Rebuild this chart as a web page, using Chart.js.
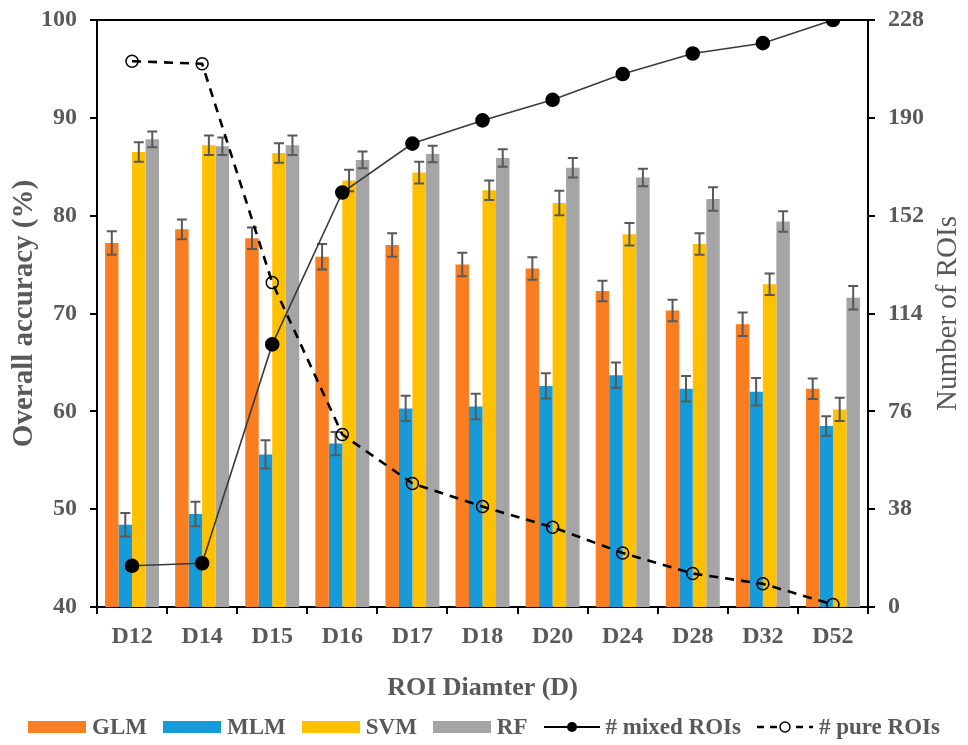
<!DOCTYPE html>
<html>
<head>
<meta charset="utf-8">
<script src="https://cdn.jsdelivr.net/npm/chart.js@4.4.0/dist/chart.umd.min.js"></script>
<style>
  body { margin: 0; background: #fff; }
  #wrap { position: relative; width: 968px; height: 745px; }
  #legend {
    position: absolute; left: 0; top: 714px; width: 968px;
    display: flex; justify-content: center; align-items: center;
    font-family: "Liberation Serif", "Times New Roman", serif;
    font-size: 23px; font-weight: bold; color: #595959;
  }
  #legend .item { display: flex; align-items: center; margin: 0 8px; }
  #legend .sw { display: inline-block; width: 58px; height: 12px; margin-right: 6px; }
  #legend svg { margin-right: 6px; }
</style>
</head>
<body>
<div id="wrap">
  <canvas id="chart" width="968" height="745"></canvas>
  <div id="legend"></div>
</div>
<script>
    const FONT = '"Liberation Serif", "Times New Roman", serif';

    const labels = ['D12', 'D14', 'D15', 'D16', 'D17', 'D18', 'D20', 'D24', 'D28', 'D32', 'D52'];

    // overall accuracy (%) per model
    const glm = [77.2, 78.6, 77.7, 75.8, 77.0, 75.0, 74.6, 72.3, 70.3, 68.9, 62.3];
    const mlm = [48.4, 49.5, 55.6, 56.7, 60.3, 60.5, 62.6, 63.7, 62.3, 62.0, 58.5];
    const svm = [86.5, 87.2, 86.4, 83.6, 84.4, 82.6, 81.3, 78.1, 77.1, 73.0, 60.2];
    const rf  = [87.8, 87.1, 87.2, 85.7, 86.3, 85.9, 84.9, 83.9, 81.7, 79.4, 71.6];

    // error bar half lengths
    const glmErr = [1.2, 1.0, 1.1, 1.3, 1.2, 1.2, 1.15, 1.05, 1.1, 1.2, 1.05];
    const mlmErr = [1.2, 1.25, 1.45, 1.2, 1.3, 1.3, 1.3, 1.3, 1.3, 1.4, 1.0];
    const svmErr = [1.0, 1.0, 1.0, 1.1, 1.1, 1.0, 1.25, 1.15, 1.1, 1.1, 1.2];
    const rfErr  = [0.8, 0.9, 1.0, 0.85, 0.85, 0.9, 1.0, 0.9, 1.2, 1.05, 1.2];

    // number of ROIs
    const mixedRois = [16, 17, 102, 161, 180, 189, 197, 207, 215, 219, 228];
    const pureRois  = [212, 211, 126, 67, 48, 39, 31, 21, 13, 9, 1];

    const accTicks = [40, 50, 60, 70, 80, 90, 100];
    const roiTicks = [0, 38, 76, 114, 152, 190, 228];

    const colors = { glm: '#F97E22', mlm: '#169BD8', svm: '#FFC000', rf: '#A5A5A5' };

    function barSet(label, data, err, color) {
        return {
            type: 'bar', label: label, data: data, errors: err,
            backgroundColor: color, yAxisID: 'y', order: 2,
            categoryPercentage: 0.77, barPercentage: 1.0
        };
    }

    // error bars + top frame line + right axis title
    const extrasPlugin = {
        id: 'extras',
        beforeDatasetsDraw(chart) {
            const ctx = chart.ctx;
            const a = chart.chartArea;
            ctx.save();
            ctx.strokeStyle = '#000';
            ctx.lineWidth = 2;
            ctx.beginPath();
            ctx.moveTo(a.left, a.top);
            ctx.lineTo(a.right, a.top);
            ctx.stroke();
            ctx.restore();
        },
        afterDatasetDraw(chart, args) {
            const ds = chart.data.datasets[args.index];
            if (!ds.errors) return;
            const ctx = chart.ctx;
            const yScale = chart.scales.y;
            ctx.save();
            ctx.strokeStyle = '#595959';
            ctx.lineWidth = 2;
            args.meta.data.forEach((el, i) => {
                const v = ds.data[i];
                const e = ds.errors[i];
                const yTop = yScale.getPixelForValue(v + e);
                const yBot = yScale.getPixelForValue(v - e);
                ctx.beginPath();
                ctx.moveTo(el.x, yTop); ctx.lineTo(el.x, yBot);
                ctx.moveTo(el.x - 5, yTop); ctx.lineTo(el.x + 5, yTop);
                ctx.moveTo(el.x - 5, yBot); ctx.lineTo(el.x + 5, yBot);
                ctx.stroke();
            });
            ctx.restore();
        },
        afterDraw(chart) {
            const ctx = chart.ctx;
            const a = chart.chartArea;
            ctx.save();
            ctx.translate(948, (a.top + a.bottom) / 2);
            ctx.rotate(-Math.PI / 2);
            ctx.textAlign = 'center';
            ctx.textBaseline = 'middle';
            ctx.fillStyle = '#595959';
            ctx.font = '29px ' + FONT;
            ctx.fillText('Number of ROIs', 0, 0);
            ctx.restore();
        }
    };

    const tickFont = { family: FONT, size: 24, weight: 'bold' };

    const chart = new Chart(document.getElementById('chart'), {
        type: 'bar',
        data: {
            labels: labels,
            datasets: [
                {
                    type: 'line', label: '# mixed ROIs', data: mixedRois, yAxisID: 'y1', order: 0,
                    borderColor: '#3a3a3a', borderWidth: 1.6, pointRadius: 6.5,
                    pointBackgroundColor: '#000', pointBorderColor: '#000', tension: 0
                },
                {
                    type: 'line', label: '# pure ROIs', data: pureRois, yAxisID: 'y1', order: 1,
                    borderColor: '#000', borderWidth: 2.6, borderDash: [9, 7], pointRadius: 6,
                    pointBackgroundColor: 'rgba(0,0,0,0)', pointBorderColor: '#000', pointBorderWidth: 1.5, tension: 0
                },
                barSet('GLM', glm, glmErr, colors.glm),
                barSet('MLM', mlm, mlmErr, colors.mlm),
                barSet('SVM', svm, svmErr, colors.svm),
                barSet('RF', rf, rfErr, colors.rf)
            ]
        },
        options: {
            responsive: false,
            animation: false,
            devicePixelRatio: 1,
            layout: { padding: { top: 20, left: 0, right: 0, bottom: 0 } },
            plugins: { legend: { display: false }, tooltip: { enabled: false } },
            scales: {
                x: {
                    offset: true,
                    grid: { offset: true, drawOnChartArea: false, drawTicks: true, tickLength: 7, color: '#000', lineWidth: 2 },
                    border: { color: '#000', width: 2 },
                    ticks: { color: '#595959', font: tickFont, padding: 8, maxRotation: 0 },
                    title: {
                        display: true, text: 'ROI Diamter (D)', color: '#595959',
                        font: { family: FONT, size: 26, weight: 'bold' }, padding: { top: 0, bottom: 41 }
                    },
                    afterFit(s) { s.height = 138; s.paddingLeft = 0; s.paddingRight = 0; }
                },
                y: {
                    position: 'left', min: 40, max: 100,
                    afterBuildTicks(s) { s.ticks = accTicks.map(v => ({ value: v })); },
                    grid: { drawOnChartArea: false, drawTicks: true, tickLength: 7, color: '#000', lineWidth: 2 },
                    border: { color: '#000', width: 2 },
                    ticks: { color: '#595959', font: tickFont, padding: 13 },
                    title: {
                        display: true, text: 'Overall accuracy (%)', color: '#595959',
                        font: { family: FONT, size: 29, weight: 'bold' }, padding: { top: 7, bottom: 0 }
                    },
                    afterFit(s) { s.width = 97; s.paddingTop = 0; s.paddingBottom = 0; }
                },
                y1: {
                    position: 'right', min: 0, max: 228,
                    afterBuildTicks(s) { s.ticks = roiTicks.map(v => ({ value: v })); },
                    grid: { drawOnChartArea: false, drawTicks: true, tickLength: 7, color: '#000', lineWidth: 2 },
                    border: { color: '#000', width: 2 },
                    ticks: { color: '#595959', font: tickFont, padding: 13 },
                    afterFit(s) { s.width = 100; s.paddingTop = 0; s.paddingBottom = 0; }
                }
            }
        },
        plugins: [extrasPlugin]
    });

    // legend below the chart
    const legend = document.getElementById('legend');
    const legendItems = [
        { kind: 'box', color: colors.glm, text: 'GLM' },
        { kind: 'box', color: colors.mlm, text: 'MLM' },
        { kind: 'box', color: colors.svm, text: 'SVM' },
        { kind: 'box', color: colors.rf, text: 'RF' },
        { kind: 'solid', text: '# mixed ROIs' },
        { kind: 'dash', text: '# pure ROIs' }
    ];
    legendItems.forEach(it => {
        const item = document.createElement('span');
        item.className = 'item';
        if (it.kind === 'box') {
            const sw = document.createElement('span');
            sw.className = 'sw';
            sw.style.background = it.color;
            item.appendChild(sw);
        } else if (it.kind === 'solid') {
            item.insertAdjacentHTML('beforeend',
                '<svg width="56" height="16"><line x1="0" y1="8" x2="56" y2="8" stroke="#000" stroke-width="2"/>' +
                '<circle cx="28" cy="8" r="5" fill="#000"/></svg>');
        } else {
            item.insertAdjacentHTML('beforeend',
                '<svg width="56" height="16"><line x1="0" y1="8" x2="56" y2="8" stroke="#000" stroke-width="2.5" stroke-dasharray="7,6"/>' +
                '<circle cx="28" cy="8" r="5" fill="#fff" stroke="#000" stroke-width="1.5"/></svg>');
        }
        const t = document.createElement('span');
        t.textContent = it.text;
        item.appendChild(t);
        legend.appendChild(item);
    });
</script>
</body>
</html>
